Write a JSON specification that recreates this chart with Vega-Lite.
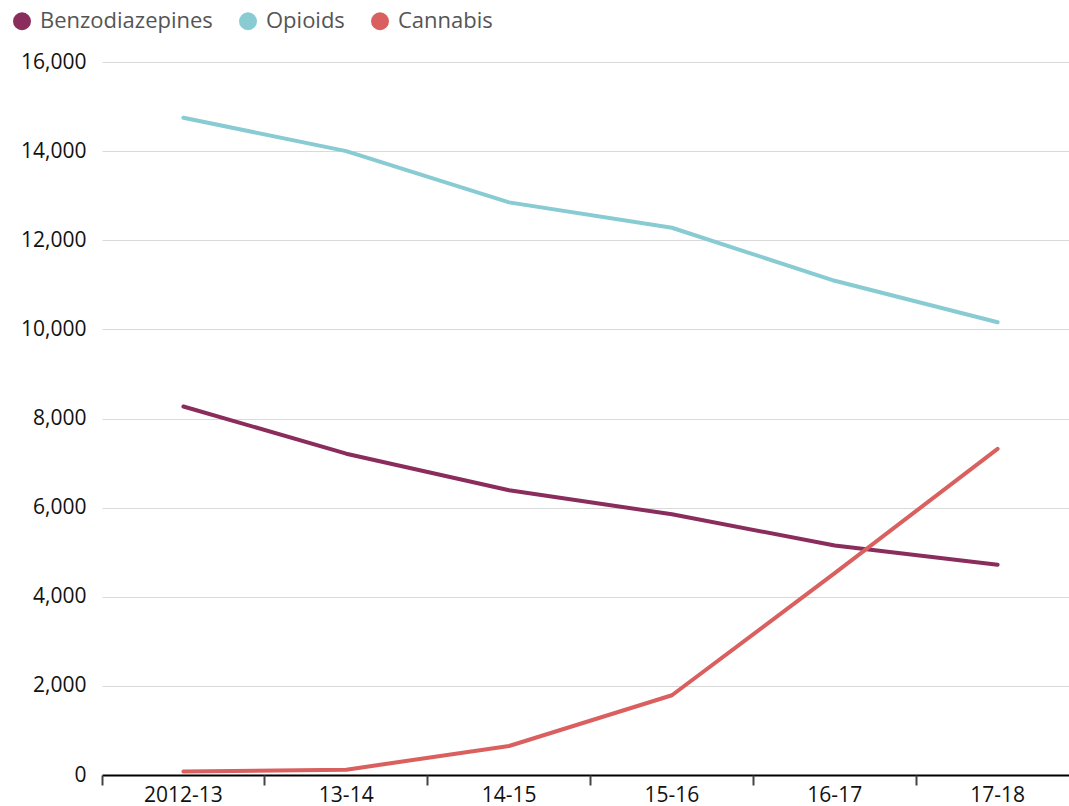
{
  "$schema": "https://vega.github.io/schema/vega-lite/v6.json",
  "width": 967,
  "height": 713,
  "autosize": {"type": "none"},
  "padding": {"left": 102, "top": 62, "right": 0, "bottom": 31},
  "config": {
    "font": "Open Sans",
    "view": {"stroke": null},
    "axis": {"labelFont": "Open Sans", "labelFontSize": 21, "labelColor": "#111111"}
  },
  "data": {
    "values": [
      {"year": "2012-13", "drug": "Benzodiazepines", "count": 8270},
      {"year": "13-14", "drug": "Benzodiazepines", "count": 7210},
      {"year": "14-15", "drug": "Benzodiazepines", "count": 6390},
      {"year": "15-16", "drug": "Benzodiazepines", "count": 5850},
      {"year": "16-17", "drug": "Benzodiazepines", "count": 5150},
      {"year": "17-18", "drug": "Benzodiazepines", "count": 4720},
      {"year": "2012-13", "drug": "Opioids", "count": 14750},
      {"year": "13-14", "drug": "Opioids", "count": 14000},
      {"year": "14-15", "drug": "Opioids", "count": 12850},
      {"year": "15-16", "drug": "Opioids", "count": 12280},
      {"year": "16-17", "drug": "Opioids", "count": 11090},
      {"year": "17-18", "drug": "Opioids", "count": 10160},
      {"year": "2012-13", "drug": "Cannabis", "count": 80},
      {"year": "13-14", "drug": "Cannabis", "count": 120},
      {"year": "14-15", "drug": "Cannabis", "count": 650},
      {"year": "15-16", "drug": "Cannabis", "count": 1790},
      {"year": "16-17", "drug": "Cannabis", "count": 4530},
      {"year": "17-18", "drug": "Cannabis", "count": 7320}
    ]
  },
  "layer": [
    {
      "mark": {"type": "line", "strokeWidth": 4, "strokeCap": "round", "strokeJoin": "round"},
      "encoding": {
        "x": {
          "field": "year",
          "type": "ordinal",
          "sort": ["2012-13", "13-14", "14-15", "15-16", "16-17", "17-18"],
          "bandPosition": 0.5,
          "scale": {"type": "band", "range": [0, 977], "paddingInner": 0, "paddingOuter": 0},
          "axis": {
            "title": null,
            "orient": "bottom",
            "labelAngle": 0,
            "bandPosition": 0.5,
            "ticks": false,
            "grid": false,
            "domain": true,
            "domainColor": "#000000",
            "domainWidth": 2,
            "labelPadding": 9,
            "labelAlign": "center"
          }
        },
        "y": {
          "field": "count",
          "type": "quantitative",
          "scale": {"domain": [0, 16000], "nice": false},
          "axis": {
            "title": null,
            "values": [0, 2000, 4000, 6000, 8000, 10000, 12000, 14000, 16000],
            "format": ",.0f",
            "domain": false,
            "ticks": false,
            "labelPadding": 16,
            "gridColor": "#d9d9d9",
            "gridWidth": 1.2
          }
        },
        "color": {
          "field": "drug",
          "type": "nominal",
          "scale": {
            "domain": ["Benzodiazepines", "Opioids", "Cannabis"],
            "range": ["#8a2d5c", "#88cbd3", "#d9605f"]
          },
          "legend": {
            "title": null,
            "orient": "none",
            "direction": "horizontal",
            "legendX": -91,
            "legendY": -52,
            "padding": 0,
            "symbolType": "circle",
            "symbolSize": 81,
            "symbolStrokeWidth": 9,
            "symbolOpacity": 1,
            "labelFont": "Open Sans",
            "labelFontSize": 22,
            "labelColor": "#555555",
            "labelOffset": 7,
            "labelLimit": 400,
            "columnPadding": 12
          }
        },
        "order": {"value": null}
      }
    },
    {
      "mark": {"type": "point", "opacity": 0},
      "encoding": {
        "x": {
          "field": "year",
          "type": "ordinal",
          "sort": ["2012-13", "13-14", "14-15", "15-16", "16-17", "17-18"],
          "axis": {
            "title": null,
            "orient": "bottom",
            "labels": false,
            "domain": false,
            "grid": false,
            "ticks": true,
            "bandPosition": 0,
            "tickSize": 10,
            "tickWidth": 2,
            "tickColor": "#444444"
          }
        }
      }
    }
  ],
  "resolve": {"axis": {"x": "independent"}}
}
